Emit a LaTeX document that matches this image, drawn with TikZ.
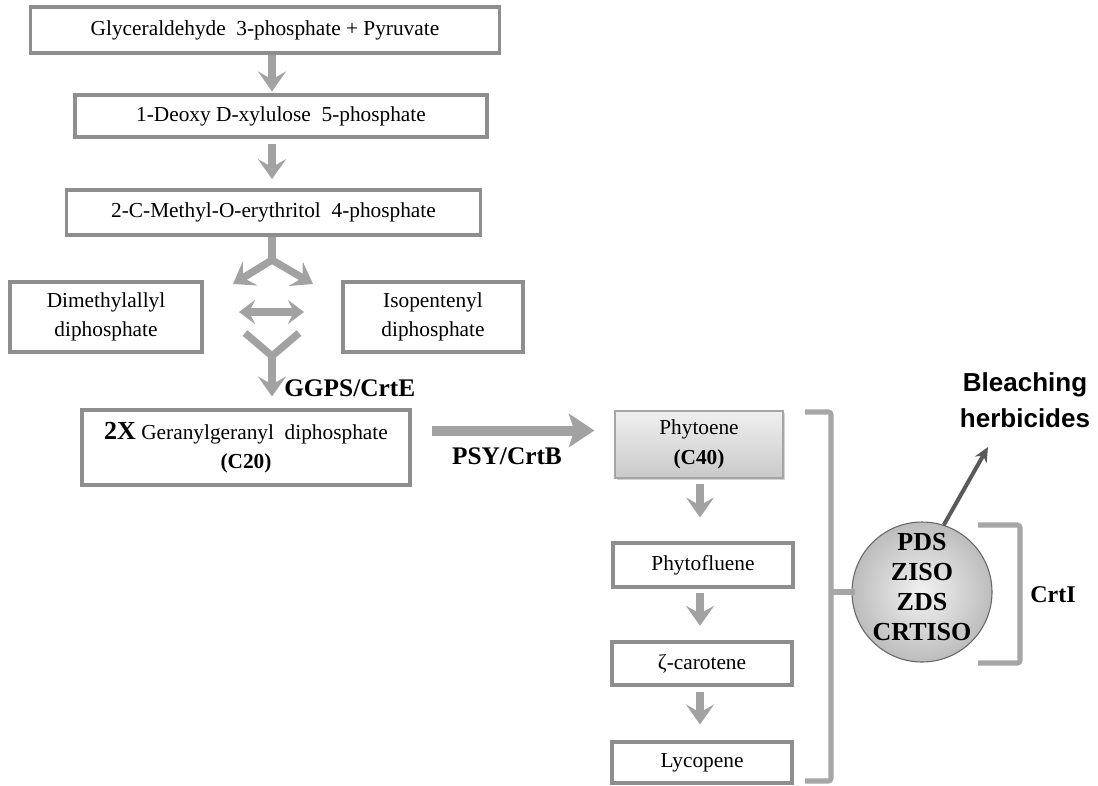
\documentclass[tikz,border=0pt]{standalone}
\usepackage{fontspec}
\setmainfont{Liberation Serif}
\newfontfamily\arialf{Liberation Sans}
\usetikzlibrary{arrows.meta,shadows,calc}
\definecolor{boxgray}{HTML}{8E8E8E}
\definecolor{arrgray}{HTML}{A2A2A2}
\definecolor{brkgray}{HTML}{A6A6A6}
\definecolor{dgray}{HTML}{5A5A5A}
\begin{document}
\begin{tikzpicture}[x=0.75pt,y=-0.75pt,
  box/.style={draw=boxgray, line width=2.3pt, fill=white, inner sep=0pt, align=center,
    font=\fontsize{16}{22}\selectfont},
  garrow/.style={draw=arrgray, line width=5.5pt, line join=round,
    -{Stealth[length=15pt,width=21pt,inset=6pt]}},
  gline/.style={draw=arrgray, line width=5.5pt, line join=round},
  gdouble/.style={draw=arrgray, line width=5.5pt,
    {Stealth[length=12pt,width=18pt,inset=4.5pt]}-{Stealth[length=12pt,width=18pt,inset=4.5pt]}},
  bigarrow/.style={draw=arrgray, line width=7.5pt,
    -{Stealth[length=19pt,width=25pt,inset=4pt]}},
  brk/.style={draw=brkgray, line width=3.8pt, rounded corners=2pt},
  lbl/.style={font=\fontsize{19}{22}\selectfont\bfseries, inner sep=0pt},
]
\useasboundingbox (0,0) rectangle (1098,785);

% left column
\node[box, minimum width=352pt, minimum height=34.5pt] (b1) at (265,30)
  {Glyceraldehyde\ \ 3-phosphate + Pyruvate};
\node[box, minimum width=309pt, minimum height=31.5pt] (b2) at (281,116)
  {1-Deoxy D-xylulose\ \ 5-phosphate};
\node[box, minimum width=310pt, minimum height=33.75pt] (b3) at (273.5,212.5)
  {2-C-Methyl-O-erythritol\ \ 4-phosphate};
\node[box, minimum width=144pt, minimum height=52.5pt] (dma) at (106,317)
  {Dimethylallyl\\diphosphate};
\node[box, minimum width=135pt, minimum height=52.5pt] (ipp) at (433,317)
  {Isopentenyl\\diphosphate};
\node[box, minimum width=246pt, minimum height=56.25pt] (gg) at (246,447.5)
  {{\fontsize{19.5}{22}\selectfont\bfseries 2X} Geranylgeranyl\ \ diphosphate\\{\bfseries (C20)}};

\coordinate (ax) at (272,0);
\draw[garrow, shorten >=1.5pt] (b1.south -| ax) -- (b2.north -| ax);
\draw[garrow, shorten <=4pt, shorten >=7pt] (b2.south -| ax) -- (b3.north -| ax);

\coordinate (br) at (272,260);
\coordinate (brL) at (233,284);
\coordinate (brR) at (313,284);
\draw[gline] (b3.south -| br) -- (br);
\draw[garrow] (br) -- (brL);
\draw[garrow] (br) -- (brR);

\coordinate (dL) at (239,312);
\coordinate (dR) at (304,312);
\draw[gdouble] (dL) -- (dR);

\coordinate (mL) at (245,333);
\coordinate (mR) at (299,333);
\coordinate (mg) at (272,356);
\draw[gline] (mL) -- (mg) -- (mR);
\draw[garrow, shorten >=9pt] (mg) -- (gg.north -| mg);

\node[lbl, anchor=west] (ggps) at (284,388) {GGPS/CrtE};

% right column
\node[box, draw=boxgray!80, line width=1pt, top color=gray!12, bottom color=gray!42,
      drop shadow={shadow xshift=1.5pt, shadow yshift=-1.5pt, opacity=0.35},
      minimum width=126pt, minimum height=50.25pt] (phy) at (699,444.5)
  {Phytoene\\{\bfseries (C40)}};
\node[box, minimum width=135pt, minimum height=33pt] (pfl) at (703,565) {Phytofluene};
\node[box, minimum width=135pt, minimum height=32.25pt] (zc) at (702,663.5) {ζ-carotene};
\node[box, minimum width=135pt, minimum height=30.75pt] (lyc) at (702,762.5) {Lycopene};

\coordinate (rx) at (700,0);
\draw[garrow, shorten <=4pt, shorten >=18pt] (phy.south -| rx) -- (pfl.north -| rx);
\draw[garrow, shorten <=3pt, shorten >=11pt] (pfl.south -| rx) -- (zc.north -| rx);
\draw[garrow, shorten <=4pt, shorten >=12pt] (zc.south -| rx) -- (lyc.north -| rx);

\draw[bigarrow] ($(gg.east)+(20,-17)$) -- ($(phy.west)+(-20,-14)$);
\node[lbl] (psy) at (507,456) {PSY/CrtB};

% enzyme circle
\node[circle, draw=gray!80!black, line width=0.8pt, inner color=gray!10, outer color=gray!52,
      minimum size=105pt, inner sep=0pt] (enz) at (922,592) {};
\node[align=center, inner sep=0pt, font=\fontsize{19.5}{22.5}\selectfont\bfseries] (enzt) at (922,587)
  {PDS\\ZISO\\ZDS\\CRTISO};

% big bracket
\coordinate (bk) at (831,0);
\draw[brk] (805,412) -- (bk |- 0,412) -- (bk |- 0,781) -- (805,781);
\draw[brk] (bk |- enz.west) -- ($(enz.west)+(4,0)$);

% small bracket
\draw[brk] (978,525) -- (1020,525) -- (1020,663) -- (978,663);
\node[font=\fontsize{18}{20}\selectfont\bfseries, inner sep=0pt] (crti) at (1053,595) {CrtI};

% bleaching herbicides
\node[font=\fontsize{19.5}{27}\selectfont\arialf\bfseries, align=center, inner sep=0pt] (bh) at (1025,400)
  {Bleaching\\herbicides};
\coordinate (bht) at (988,447);
\draw[draw=dgray, line width=3pt, -{Stealth[length=11pt,width=10pt]}] (enz.72) -- (bht);
\end{tikzpicture}
\end{document}
